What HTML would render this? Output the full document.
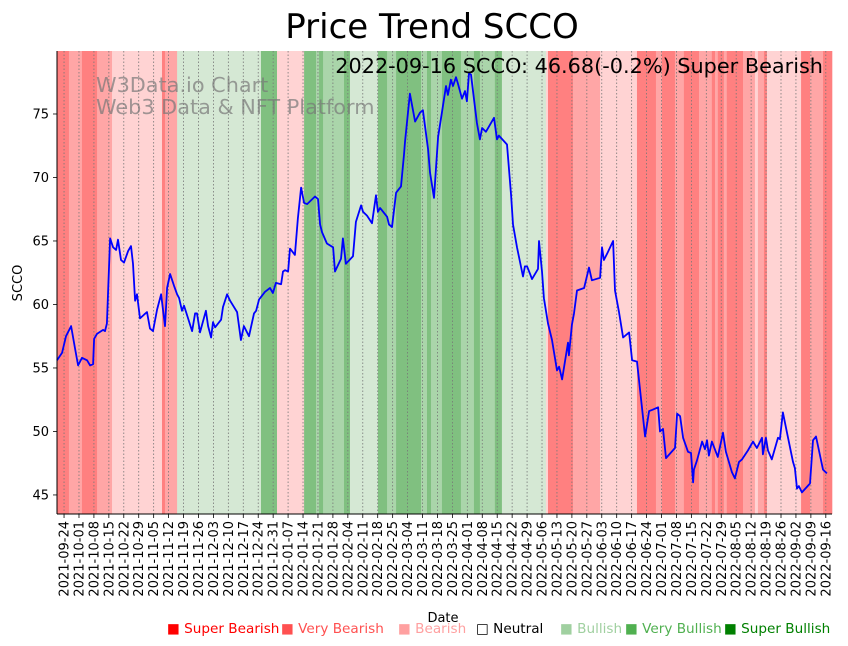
<!DOCTYPE html>
<html><head><meta charset="utf-8"><style>
html,body{margin:0;padding:0;background:#fff;}
svg{display:block;font-family:"DejaVu Sans","Liberation Sans",sans-serif;}
</style></head><body>
<svg id="chart" width="848" height="646" viewBox="0 0 848 646" xmlns="http://www.w3.org/2000/svg">
<g id="bands"></g>
<g id="grid"></g>
<g id="line"></g>
<g id="axes"></g>
<text x="432" y="38" font-size="34" text-anchor="middle">Price Trend SCCO</text>
<text x="823" y="73" font-size="20.8" text-anchor="end">2022-09-16 SCCO: 46.68(-0.2%) Super Bearish</text>
<text x="96" y="92" font-size="20.8" fill="#777" fill-opacity="0.7">W3Data.io Chart</text>
<text x="96" y="114" font-size="20.8" fill="#777" fill-opacity="0.7">Web3 Data &amp; NFT Platform</text>
<text transform="translate(22,283) rotate(-90)" font-size="13" text-anchor="middle">SCCO</text>
<text x="443" y="622" font-size="13" text-anchor="middle">Date</text>
<g font-size="13.6">
<text x="167" y="633" fill="#ff0000">■ Super Bearish</text>
<text x="281" y="633" fill="#ff5050">■ Very Bearish</text>
<text x="398" y="633" fill="#ffa0a0">■ Bearish</text>
<text x="476" y="633" fill="#000">□ Neutral</text>
<text x="560" y="633" fill="#a0d0a0">■ Bullish</text>
<text x="625" y="633" fill="#50b050">■ Very Bullish</text>
<text x="724" y="633" fill="#008000">■ Super Bullish</text>
</g>
</svg>
<script>
// Day offsets from 2021-09-24 and closing prices
const days = [-3.3,-0.9,0.9,3.3,5.2,6.6,8.4,10.8,12.2,13.6,14.1,15.5,18.3,19.2,20.1,21.6,23.0,24.4,25.3,26.7,28.1,30.0,31.4,32.3,33.3,34.2,35.6,37.5,38.9,40.3,41.7,43.6,45.5,47.3,48.3,49.7,51.5,53.0,53.9,55.3,56.2,57.2,60.0,61.4,62.3,63.7,66.5,67.5,68.9,69.8,70.8,73.6,74.5,76.4,77.8,81.1,82.9,84.3,86.7,89.0,90.0,91.4,94.2,96.5,97.9,99.3,101.7,102.6,103.6,105.0,105.9,108.2,109.6,111.1,112.5,113.9,117.6,119.0,120.0,120.9,123.2,126.1,127.0,129.8,130.7,132.1,135.4,136.8,139.2,140.1,142.0,144.3,146.2,147.1,148.1,151.4,152.3,153.7,155.6,157.9,159.3,159.8,162.1,164.5,166.8,168.2,170.6,171.5,173.4,175.3,177.1,179.0,179.9,181.3,182.3,183.7,184.6,186.5,187.9,188.8,189.8,190.7,193.5,194.9,195.9,197.7,201.5,202.9,203.8,207.6,209.5,210.4,212.3,215.1,216.0,217.0,218.4,219.3,222.1,222.6,224.0,224.9,226.8,228.7,231.0,232.0,233.4,236.2,236.6,238.0,239.0,240.4,243.7,246.0,247.4,251.2,252.1,253.0,254.5,257.3,258.2,260.1,262.0,264.8,266.2,268.5,272.3,274.2,275.6,278.4,279.3,280.7,282.1,286.3,287.3,288.7,290.1,292.4,293.8,294.8,295.2,296.6,299.0,300.4,301.3,302.2,303.6,306.4,308.8,310.2,313.0,314.4,316.3,317.7,320.5,322.9,324.7,327.1,327.5,328.9,329.9,331.7,334.6,335.5,336.9,338.8,341.6,342.5,343.5,344.4,345.8,349.6,351.0,352.4,355.7,357.5,359.9];
const prices = [55.6,56.2,57.5,58.3,56.5,55.2,55.8,55.6,55.2,55.3,57.3,57.7,58.0,57.9,58.5,65.2,64.5,64.3,65.1,63.5,63.3,64.2,64.6,63.2,60.3,60.8,58.9,59.2,59.4,58.1,57.9,59.6,60.8,58.3,61.3,62.4,61.5,60.8,60.5,59.5,59.9,59.4,57.9,59.3,59.3,57.8,59.5,58.3,57.4,58.6,58.2,58.8,59.8,60.8,60.3,59.4,57.2,58.3,57.5,59.3,59.5,60.4,61.0,61.3,60.9,61.7,61.6,62.6,62.7,62.6,64.4,63.9,66.8,69.2,68.0,67.9,68.5,68.3,66.3,65.7,64.8,64.5,62.6,63.6,65.2,63.2,63.8,66.5,67.8,67.3,67.0,66.4,68.6,67.3,67.6,66.9,66.3,66.1,68.8,69.3,71.8,72.8,76.6,74.4,75.1,75.3,72.2,70.4,68.4,73.2,75.1,77.2,76.5,77.7,77.2,77.9,77.4,76.2,76.8,76.0,78.2,78.1,74.3,73.0,73.9,73.6,74.7,73.0,73.3,72.6,68.6,66.3,64.5,62.2,63.0,63.0,62.4,62.0,62.8,65.0,62.6,60.5,58.5,57.2,54.8,55.1,54.1,57.0,56.0,58.4,59.3,61.1,61.3,62.9,61.9,62.1,64.5,63.5,64.0,65.0,61.1,59.4,57.4,57.8,55.6,55.5,49.6,51.6,51.7,51.9,50.0,50.2,47.9,48.7,51.4,51.2,49.5,48.4,48.3,46.0,47.0,47.7,49.2,48.6,49.3,48.1,49.2,48.0,49.9,48.4,46.8,46.3,47.6,47.8,48.5,49.2,48.7,49.5,48.2,49.5,48.5,47.8,49.5,49.4,51.5,49.9,47.6,47.1,45.5,45.7,45.2,45.9,49.3,49.6,47.0,46.7];
// Sentiment bands: start day, end day, level (-3 super bearish .. 3 super bullish)
const bandStart = [-3.3,2.3,8.4,15.5,22.5,45.9,47.3,53.0,92.3,99.8,112.5,118.1,119.5,121.4,131.2,134.0,147.1,151.4,155.6,167.3,170.1,172.0,177.1,186.0,192.1,194.9,201.9,205.2,225.9,226.8,238.5,251.2,268.5,277.4,280.2,286.3,290.5,297.6,303.6,305.1,306.4,309.2,310.6,318.2,323.8,325.2,328.0,329.4,345.4,349.6,355.7];
const bandEnd = [2.3,8.4,15.5,22.5,45.9,47.3,53.0,92.3,99.8,112.5,118.1,119.5,121.4,131.2,134.0,147.1,151.4,155.6,167.3,170.1,172.0,177.1,186.0,192.1,194.9,201.9,205.2,225.9,226.8,238.5,251.2,268.5,277.4,280.2,286.3,290.5,297.6,303.6,305.1,306.4,309.2,310.6,318.2,323.8,325.2,328.0,329.4,345.4,349.6,355.7,359.9];
const bandLevel = [-3,-2,-3,-2,-1,-3,-2,1,3,-1,3,2,3,2,3,1,3,2,3,2,3,2,3,2,3,2,3,1,-1,-3,-2,-1,-3,-2,-3,-2,-3,-2,-3,-2,-3,-2,-3,-2,-1,-2,-3,-1,-3,-2,-3];
const yTicks = [45,50,55,60,65,70,75];
const tickCount = 52; // weekly ticks from 2021-09-24

const NS = "http://www.w3.org/2000/svg";
const X0 = 57, X1 = 832, Y0 = 51, Y1 = 514;
const D0 = -3.3, D1 = 359.9, V0 = 43.5, V1 = 79.96;
const xs = d => X0 + (d - D0) / (D1 - D0) * (X1 - X0);
const ys = v => Y1 - (v - V0) / (V1 - V0) * (Y1 - Y0);
const colors = {"-3":"#ff8080","-2":"#ffa6a6","-1":"#ffd3d3","0":"#ffffff","1":"#d5e8d4","2":"#aad5aa","3":"#80c080"};
function mk(tag, attrs, parent){const e=document.createElementNS(NS,tag);for(const k in attrs)e.setAttribute(k,attrs[k]);parent.appendChild(e);return e;}

const gb = document.getElementById('bands');
for (let i = 0; i < bandLevel.length; i++) {
  const r = mk('rect', {x: xs(bandStart[i]), y: Y0, width: Math.max(0, xs(bandEnd[i]) - xs(bandStart[i]) + 0.3), height: Y1 - Y0, fill: colors[bandLevel[i]]}, gb);
  
  
}

const gg = document.getElementById('grid');
const ga = document.getElementById('axes');
const base = new Date(Date.UTC(2021, 8, 24));
for (let k = 0; k < tickCount; k++) {
  const d = k * 7;
  const x = xs(d);
  const gl = mk('line', {x1: x, x2: x, y1: Y0, y2: Y1, stroke: '#777', 'stroke-width': 0.8, 'stroke-dasharray': '1.5,2'}, gg);
  
  
  mk('line', {x1: x, x2: x, y1: Y1, y2: Y1 + 4, stroke: '#000', 'stroke-width': 0.8}, ga);
  const dt = new Date(base.getTime() + d * 86400000);
  const lab = dt.toISOString().slice(0, 10);
  const t = mk('text', {transform: `translate(${x + 4.5},${Y1 + 7}) rotate(-90)`, 'font-size': 13, 'text-anchor': 'end'}, ga);
  t.textContent = lab;
  
  
}
for (const v of yTicks) {
  const y = ys(v);
  mk('line', {x1: X0 - 4, x2: X0, y1: y, y2: y, stroke: '#000', 'stroke-width': 0.8}, ga);
  const t = mk('text', {x: X0 - 8, y: y + 4.5, 'font-size': 13, 'text-anchor': 'end'}, ga);
  t.textContent = v;
  
  
}
const sl = mk('line', {x1: X0, x2: X0, y1: Y0, y2: Y1, stroke: '#000', 'stroke-width': 1}, ga);


const sb = mk('line', {x1: X0, x2: X1, y1: Y1, y2: Y1, stroke: '#000', 'stroke-width': 1}, ga);



const pts = days.map((d, i) => xs(d).toFixed(1) + ',' + ys(prices[i]).toFixed(1)).join(' ');
const pl = mk('polyline', {points: pts, fill: 'none', stroke: '#0000ff', 'stroke-width': 1.8, 'stroke-linejoin': 'round'}, document.getElementById('line'));


</script>
</body></html>
